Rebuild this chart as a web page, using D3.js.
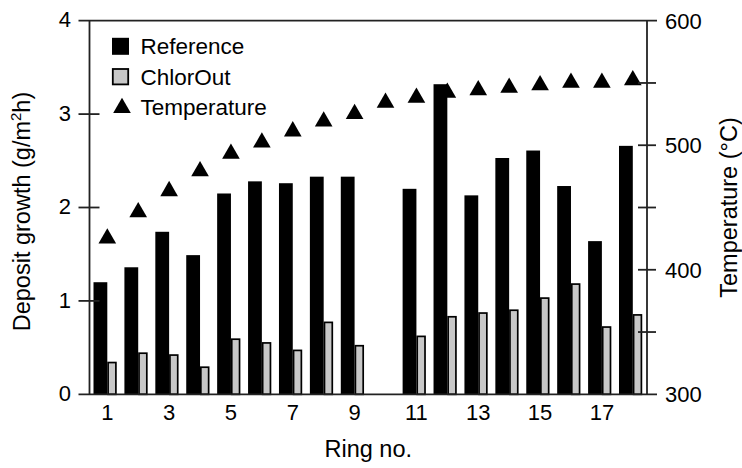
<!DOCTYPE html>
<head>
  <meta charset="utf-8">
  <script src="https://d3js.org/d3.v7.min.js"></script>
  <style>
    body { margin:0; background:#fff; }
    text { font-family: "Liberation Sans", Arial, sans-serif; fill:#000; }
  </style>
</head>
<body>
<script>
  // values
  var rings = [1,2,3,4,5,6,7,8,9,10,11,12,13,14,15,16,17,18];
  var reference = [1.20,1.36,1.74,1.49,2.15,2.28,2.26,2.33,2.33,null,2.20,3.32,2.13,2.53,2.61,2.23,1.64,2.66];
  var chlorOut  = [0.34,0.44,0.42,0.29,0.59,0.55,0.47,0.77,0.52,null,0.62,0.83,0.87,0.90,1.03,1.18,0.72,0.85];
  var temperature = [426,447,464,480,494,503,512,520,526,535,539,543,545,547,549,551,551,553];
  var xTickLabels = [1,3,5,7,9,11,13,15,17];
  var leftTicks = [0,1,2,3,4];
  var rightTicks = [300,350,400,450,500,550,600];
  var rightLabels = [300,400,500,600];

  var width = 742, height = 468;
  // plot box ("top" is taken by window, so prefixed names)
  var pLeft = 89.5, pRight = 647, pTop = 20.7, pBottom = 394.3;

  var svg = d3.select("body").append("svg")
    .attr("width", width)
    .attr("height", height);

  var x = d3.scaleLinear().domain([1,18]).range([107.3, 632.8]);
  var y = d3.scaleLinear().domain([0,4]).range([pBottom, pTop]);
  var yT = d3.scaleLinear().domain([300,600]).range([pBottom, pTop]);

  var lw = 1.8;

  // temperature markers (behind the bars)
  var tri = d3.symbol().type(d3.symbolTriangle).size(135);
  svg.append("g").selectAll("path")
    .data(rings)
    .enter().append("path")
    .attr("d", tri)
    .attr("transform", function(d,i){ return "translate(" + x(d) + "," + (yT(temperature[i]) + 1) + ")"; })
    .attr("fill", "#000");

  // bars
  var bw = 13.8, gw = 9.4;
  svg.append("g").selectAll("rect")
    .data(rings.filter(function(d,i){ return reference[i] != null; }))
    .enter().append("rect")
    .attr("x", function(d){ return x(d) - bw; })
    .attr("y", function(d){ return y(reference[d-1]); })
    .attr("width", bw)
    .attr("height", function(d){ return pBottom - y(reference[d-1]); })
    .attr("fill", "#000");

  svg.append("g").selectAll("rect")
    .data(rings.filter(function(d,i){ return chlorOut[i] != null; }))
    .enter().append("rect")
    .attr("x", function(d){ return x(d) + 0.8; })
    .attr("y", function(d){ return y(chlorOut[d-1]); })
    .attr("width", gw - 1.6)
    .attr("height", function(d){ return pBottom - y(chlorOut[d-1]); })
    .attr("fill", "#c8c8c8")
    .attr("stroke", "#000")
    .attr("stroke-width", 1.7);

  // frame
  var frame = svg.append("g").attr("stroke", "#222").attr("stroke-width", lw).attr("fill", "none");
  frame.append("line").attr("x1", pLeft - 11).attr("x2", pRight + 10).attr("y1", pBottom).attr("y2", pBottom);
  frame.append("line").attr("x1", pLeft - 11).attr("x2", pRight + 10).attr("y1", pTop).attr("y2", pTop);
  frame.append("line").attr("x1", pLeft).attr("x2", pLeft).attr("y1", pTop).attr("y2", pBottom);
  frame.append("line").attr("x1", pRight).attr("x2", pRight).attr("y1", pTop).attr("y2", pBottom);

  // ticks crossing the axes
  frame.selectAll(".lt").data(leftTicks.filter(function(d){ return d > 0 && d < 4; }))
    .enter().append("line")
    .attr("x1", pLeft - 11).attr("x2", pLeft + 10)
    .attr("y1", function(d){ return y(d); }).attr("y2", function(d){ return y(d); });
  frame.selectAll(".rt").data(rightTicks.filter(function(d){ return d > 300 && d < 600; }))
    .enter().append("line")
    .attr("x1", pRight - 9).attr("x2", pRight + 9)
    .attr("y1", function(d){ return yT(d); }).attr("y2", function(d){ return yT(d); });

  var fs = 22;
  svg.append("g").selectAll("text").data(leftTicks)
    .enter().append("text")
    .attr("x", 71).attr("y", function(d){ return y(d); })
    .attr("dy", "0.3em")
    .attr("text-anchor", "end")
    .attr("font-size", fs)
    .text(function(d){ return d; });

  svg.append("g").selectAll("text").data(rightLabels)
    .enter().append("text")
    .attr("x", 665).attr("y", function(d){ return yT(d); })
    .attr("dy", "0.36em")
    .attr("font-size", fs)
    .text(function(d){ return d; });

  svg.append("g").selectAll("text").data(xTickLabels)
    .enter().append("text")
    .attr("x", function(d){ return x(d); }).attr("y", 420)
    .attr("text-anchor", "middle")
    .attr("font-size", fs)
    .text(function(d){ return d; });

  // axis titles
  var tfs = 23.5;
  svg.append("text")
    .attr("x", (pLeft + pRight) / 2).attr("y", 457)
    .attr("text-anchor", "middle")
    .attr("font-size", tfs)
    .text("Ring no.");

  var lt = svg.append("text")
    .attr("transform", "translate(30," + ((pTop + pBottom) / 2 + 4) + ") rotate(-90)")
    .attr("text-anchor", "middle")
    .attr("font-size", tfs);
  lt.append("tspan").text("Deposit growth (g/m");
  lt.append("tspan").attr("font-size", 15).attr("dy", -9).text("2");
  lt.append("tspan").attr("dy", 9).text("h)");

  svg.append("text")
    .attr("transform", "translate(737," + ((pTop + pBottom) / 2) + ") rotate(-90)")
    .attr("text-anchor", "middle")
    .attr("font-size", tfs)
    .text("Temperature (\u00b0C)");

  // legend
  var legend = svg.append("g");
  var rows = [46.3, 76.7, 107];
  legend.append("rect").attr("x", 112).attr("y", rows[0] - 8.5).attr("width", 17).attr("height", 17).attr("fill", "#000");
  legend.append("rect").attr("x", 112.8).attr("y", rows[1] - 7.7).attr("width", 15.4).attr("height", 15.4)
    .attr("fill", "#c8c8c8").attr("stroke", "#000").attr("stroke-width", 1.8);
  legend.append("path").attr("d", tri).attr("transform", "translate(122," + (rows[2] + 1) + ")").attr("fill", "#000");
  var names = ["Reference", "ChlorOut", "Temperature"];
  legend.selectAll("text").data(names)
    .enter().append("text")
    .attr("x", 140.5)
    .attr("y", function(d,i){ return rows[i] + 8; })
    .attr("font-size", fs + 0.5)
    .text(function(d){ return d; });
</script>
</body>
